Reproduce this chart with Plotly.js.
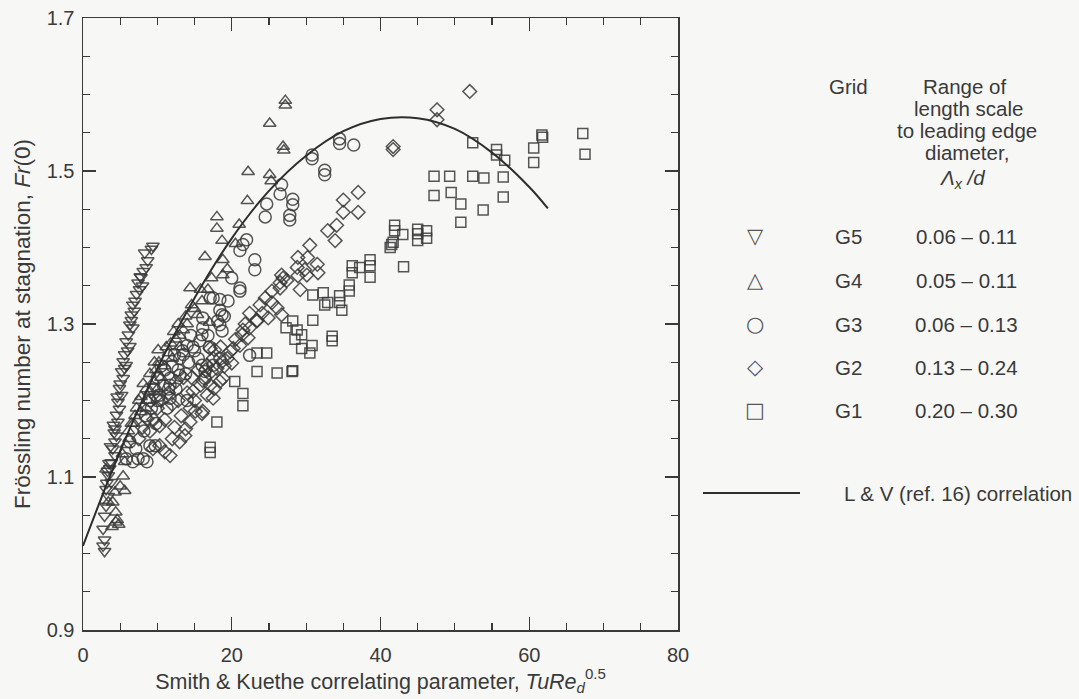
<!DOCTYPE html>
<html>
<head>
<meta charset="utf-8">
<script src="https://cdn.plot.ly/plotly-3.0.1.min.js"></script>
<style>html,body{margin:0;padding:0;background:#f7f7f5;}</style>
</head>
<body>
<div id="chart" style="width:1079px;height:699px;"></div>
<script>
// ---- Data ----
// G5 (inverted triangles)
const g5X = [9.2,9.4,8.3,8.5,8.1,7.8,7.4,7.6,7.2,6.7,6.9,6.5,6.3,6.7,6.1,5.8,6.3,5.6,5.4,5.8,5.2,5.4,4.9,5.2,4.7,4.9,4.5,4.7,4.3,4.5,4.3,4.0,4.3,3.8,3.6,3.4,3.8,3.1,3.4,3.1,2.9,2.7,2.9,2.7,2.9,
             8.7,8.0,7.0,6.0,5.0,4.6,4.1,3.7,3.3,5.6,6.5,7.7,4.2,3.5,3.2];
const g5Y = [1.398,1.402,1.393,1.374,1.369,1.361,1.354,1.345,1.339,1.325,1.317,1.312,1.299,1.295,1.286,1.277,1.271,1.260,1.251,1.246,1.238,1.229,1.216,1.207,1.198,1.189,1.181,1.172,1.163,1.154,1.146,1.137,1.128,1.119,1.111,1.102,1.093,1.084,1.075,1.062,1.049,1.032,1.018,1.010,1.003,
             1.383,1.350,1.330,1.265,1.222,1.205,1.168,1.140,1.108,1.242,1.305,1.362,1.158,1.118,1.092];
// G4 (triangles)
const g4X = [27.2,27.2,25.1,26.9,27.0,22.2,25.1,25.3,22.1,18.0,18.0,18.7,16.4,18.8,19.4,18.8,17.3,14.4,16.0,15.4,17.0,13.5,12.5,10.1,11.5,9.6,8.1,9.0,7.5,8.5,7.0,6.5,6.1,5.8,5.3,3.1,5.4,5.0,5.6,4.3,3.4,4.0,4.4,4.4,4.8,4.6,3.9,
             11.0,12.0,13.0,10.5,9.5,14.0,15.0,11.8,13.8,20.5,21.0,16.8,8.8,7.8,10.0,
             9.0,10.2,11.2,12.2,8.5,7.2,6.8,13.0,14.6,15.8,12.8,9.8,7.8,6.2,5.6];
const g4Y = [1.592,1.586,1.562,1.532,1.527,1.499,1.495,1.487,1.461,1.440,1.425,1.409,1.388,1.384,1.372,1.364,1.360,1.347,1.330,1.312,1.302,1.292,1.280,1.266,1.262,1.250,1.222,1.212,1.200,1.190,1.180,1.170,1.160,1.142,1.130,1.110,1.101,1.088,1.082,1.080,1.067,1.067,1.054,1.041,1.038,1.044,1.035,
             1.245,1.255,1.270,1.230,1.225,1.300,1.320,1.275,1.310,1.405,1.430,1.345,1.200,1.185,1.215,
             1.235,1.250,1.270,1.290,1.215,1.190,1.170,1.285,1.325,1.345,1.300,1.240,1.205,1.150,1.120];
// G3 (circles)
const g3X = [34.5,34.5,36.4,30.8,30.8,32.5,32.5,26.7,26.5,28.2,28.2,24.7,24.5,27.8,27.8,22.0,21.5,21.1,23.1,23.1,21.1,21.1,17.5,18.4,18.4,18.7,18.1,18.4,18.7,16.0,15.7,14.0,13.4,13.0,13.0,16.0,16.4,16.4,11.7,11.7,11.7,11.3,10.3,9.0,8.1,8.6,6.3,7.1,6.7,7.4,5.8,9.7,22.4,18.4,17.5,16.1,16.1,17.1,
             10.5,12.3,14.5,9.5,15.0,12.8,14.2,10.8,19.5,20.0,17.0,8.4,9.2,
             10.0,11.0,12.0,13.5,14.8,9.0,10.0,11.5,12.5,13.8,15.5,8.2,9.8,14.0,16.8,19.0];
const g3Y = [1.542,1.536,1.534,1.521,1.516,1.501,1.495,1.482,1.470,1.463,1.456,1.457,1.440,1.442,1.436,1.410,1.404,1.396,1.384,1.371,1.347,1.343,1.334,1.332,1.318,1.312,1.304,1.299,1.291,1.286,1.278,1.272,1.265,1.255,1.233,1.246,1.238,1.229,1.229,1.220,1.203,1.190,1.207,1.141,1.124,1.120,1.146,1.137,1.120,1.124,1.124,1.141,1.259,1.255,1.246,1.308,1.295,1.334,
             1.245,1.260,1.285,1.215,1.265,1.240,1.250,1.220,1.330,1.360,1.270,1.180,1.190,
             1.230,1.240,1.245,1.260,1.270,1.200,1.200,1.215,1.215,1.235,1.255,1.160,1.170,1.200,1.285,1.310];
// G2 (diamonds)
const g2X = [52.0,47.6,47.6,41.7,41.7,37.0,35.0,35.0,37.0,34.1,32.9,33.9,30.5,28.9,30.2,31.5,28.8,29.8,31.6,28.9,29.2,30.1,26.7,26.5,27.4,24.5,25.4,26.1,26.7,23.8,24.1,24.9,23.4,22.4,21.4,22.2,21.1,20.2,19.8,19.4,20.0,17.1,17.5,16.7,17.3,18.4,17.7,16.7,16.1,
             25.4,26.5,26.9,22.4,23.4,21.5,18.7,17.7,18.0,17.1,16.1,14.8,18.8,17.5,15.1,16.0,14.4,13.7,13.0,12.0,11.0,11.7,10.3,9.4,10.3,8.6,13.8,14.4,
             11.5,12.5,10.0,9.0,13.5,15.5,7.5,8.0,12.0,14.0,
             10.5,11.0,12.8,13.2,14.6,15.8,16.5,9.5,12.3,15.0,18.5,19.0,20.5,21.8,9.8];
const g2Y = [1.604,1.580,1.567,1.532,1.528,1.472,1.462,1.446,1.446,1.429,1.422,1.409,1.403,1.387,1.387,1.378,1.374,1.371,1.367,1.363,1.345,1.364,1.364,1.354,1.357,1.334,1.328,1.321,1.312,1.325,1.314,1.308,1.305,1.295,1.286,1.282,1.272,1.268,1.264,1.255,1.249,1.268,1.255,1.246,1.238,1.225,1.216,1.207,1.186,
             1.343,1.347,1.360,1.314,1.304,1.292,1.251,1.266,1.242,1.220,1.226,1.212,1.229,1.203,1.186,1.183,1.172,1.154,1.146,1.150,1.133,1.128,1.141,1.137,1.167,1.176,1.163,1.190,
             1.210,1.225,1.190,1.160,1.230,1.240,1.150,1.165,1.195,1.210,
             1.200,1.175,1.200,1.180,1.230,1.220,1.240,1.175,1.165,1.200,1.270,1.245,1.280,1.300,1.205];
// G1 (squares)
const g1X = [61.7,61.8,67.2,67.5,60.6,60.6,55.6,55.6,56.7,52.4,56.5,56.5,53.9,52.4,49.3,47.2,47.2,49.5,50.8,53.8,50.8,43.0,45.0,45.0,46.2,46.2,43.1,41.9,41.9,41.5,41.3,41.7,45.0,
             38.6,38.6,38.6,36.2,36.2,37.2,35.8,35.8,30.9,32.3,32.5,32.9,34.5,34.5,34.8,30.9,28.2,28.8,29.4,30.8,30.5,29.4,33.5,33.5,28.2,
             23.4,24.7,23.4,26.1,28.1,20.4,21.5,21.5,18.0,17.1,17.1,27.3,28.5];
const g1Y = [1.547,1.544,1.549,1.522,1.530,1.511,1.528,1.521,1.514,1.537,1.492,1.466,1.491,1.493,1.493,1.493,1.468,1.472,1.457,1.449,1.433,1.417,1.424,1.409,1.422,1.412,1.375,1.429,1.422,1.404,1.400,1.407,1.418,
             1.384,1.376,1.361,1.376,1.367,1.374,1.351,1.343,1.338,1.341,1.325,1.328,1.337,1.328,1.318,1.305,1.304,1.292,1.286,1.272,1.262,1.268,1.284,1.278,1.239,
             1.262,1.262,1.238,1.236,1.238,1.225,1.209,1.193,1.172,1.139,1.132,1.295,1.280];
// L & V (ref. 16) correlation curve
const curveX = [0,5,10,15,20,25,30,35,40,45,50,55,60,62.5];
const curveY = [1.010,1.134,1.242,1.334,1.412,1.474,1.520,1.552,1.568,1.569,1.555,1.524,1.479,1.451];

// Legend table text
const gridNames = ['G5','G4','G3','G2','G1'];
const gridRanges = ['0.06 \u2013 0.11','0.05 \u2013 0.11','0.06 \u2013 0.13','0.13 \u2013 0.24','0.20 \u2013 0.30'];
const gridGlyphs = ['\u25BD','\u25B3','\u25CB','\u25C7','\u25A1'];

// ---- Styling ----
const INK = '#3a3a3a';
const MK = '#383838';
const FONT = 'Liberation Sans, Arial, Helvetica, sans-serif';
const W = 1079, H = 699;

function mk(x, y, name, symbol, size) {
  return {x: x, y: y, name: name, type: 'scatter', mode: 'markers',
    marker: {symbol: symbol, size: size, color: MK, opacity: 0.85, line: {color: MK, width: 1.5}},
    showlegend: false, hoverinfo: 'x+y+name'};
}

const traces = [
  mk(g1X, g1Y, 'G1', 'square-open', 10),
  mk(g2X, g2Y, 'G2', 'diamond-open', 10.5),
  mk(g3X, g3Y, 'G3', 'circle-open', 12),
  mk(g4X, g4Y, 'G4', 'triangle-up-open', 11),
  mk(g5X, g5Y, 'G5', 'triangle-down-open', 11),
  {x: curveX, y: curveY, name: 'L & V (ref. 16) correlation', type: 'scatter', mode: 'lines',
   line: {color: '#2e2e2e', width: 2, shape: 'spline', smoothing: 1}, showlegend: false}
];

const px = v => v / W, py = v => 1 - v / H;
const annotations = [];
function txt(text, x, y, opts) {
  annotations.push(Object.assign({text: text, x: px(x), y: py(y), xref: 'paper', yref: 'paper',
    showarrow: false, xanchor: 'center', yanchor: 'middle',
    font: {family: FONT, size: 20.5, color: INK}}, opts || {}));
}
txt('Grid', 848, 86);
txt('Range of', 965, 86);
txt('length scale', 968, 108);
txt('to leading edge', 967, 130);
txt('diameter,', 967, 152);
txt('<i>\u039B</i><sub><i>x</i></sub><i> /d</i>', 962, 179);
const rowY = [236, 280, 324, 367, 410];
for (let i = 0; i < gridNames.length; i++) {
  txt(gridGlyphs[i], 755, rowY[i], {font: {family: 'DejaVu Sans', size: 21, color: '#555'}});
  txt(gridNames[i], 848, rowY[i]);
  txt(gridRanges[i], 966, rowY[i]);
}
txt('L & V (ref. 16) correlation', 842, 493, {xanchor: 'left'});

const layout = {
  width: W, height: H,
  margin: {l: 0, r: 0, t: 0, b: 0},
  paper_bgcolor: '#f7f7f5', plot_bgcolor: '#f7f7f5',
  font: {family: FONT, color: INK},
  showlegend: false,
  xaxis: {
    domain: [83 / W, 678 / W], range: [0, 80], tick0: 0, dtick: 20,
    ticks: 'inside', ticklen: 13, tickwidth: 1.2, tickcolor: INK,
    showline: true, linecolor: INK, linewidth: 1.5, mirror: 'ticks',
    showgrid: false, zeroline: false,
    minor: {ticks: 'inside', dtick: 5, ticklen: 7, tickwidth: 1.2, tickcolor: INK, showgrid: false},
    tickfont: {family: FONT, size: 20, color: INK}, ticklabelstandoff: 6,
    title: {text: 'Smith &amp; Kuethe correlating parameter, <i>TuRe</i><sub><i>d</i></sub><sup>0.5</sup>',
            font: {family: FONT, size: 21.5, color: INK}, standoff: 8}
  },
  yaxis: {
    domain: [69 / H, 681 / H], range: [0.9, 1.7], tick0: 0.9, dtick: 0.2, tickformat: '.1f',
    ticks: 'inside', ticklen: 13, tickwidth: 1.2, tickcolor: INK,
    showline: true, linecolor: INK, linewidth: 1.5, mirror: 'ticks',
    showgrid: false, zeroline: false,
    minor: {ticks: 'inside', dtick: 0.05, ticklen: 7, tickwidth: 1.2, tickcolor: INK, showgrid: false},
    tickfont: {family: FONT, size: 20, color: INK}, ticklabelstandoff: 3,
    title: {text: 'Fr\u00F6ssling number at stagnation, <i>Fr</i>(0)',
            font: {family: FONT, size: 22.5, color: INK}, standoff: 10}
  },
  shapes: [{type: 'line', xref: 'paper', yref: 'paper', x0: px(703), x1: px(800), y0: py(493), y1: py(493),
            line: {color: '#2e2e2e', width: 2}}],
  annotations: annotations
};

Plotly.newPlot('chart', traces, layout, {displayModeBar: false, staticPlot: true});
</script>
</body>
</html>
